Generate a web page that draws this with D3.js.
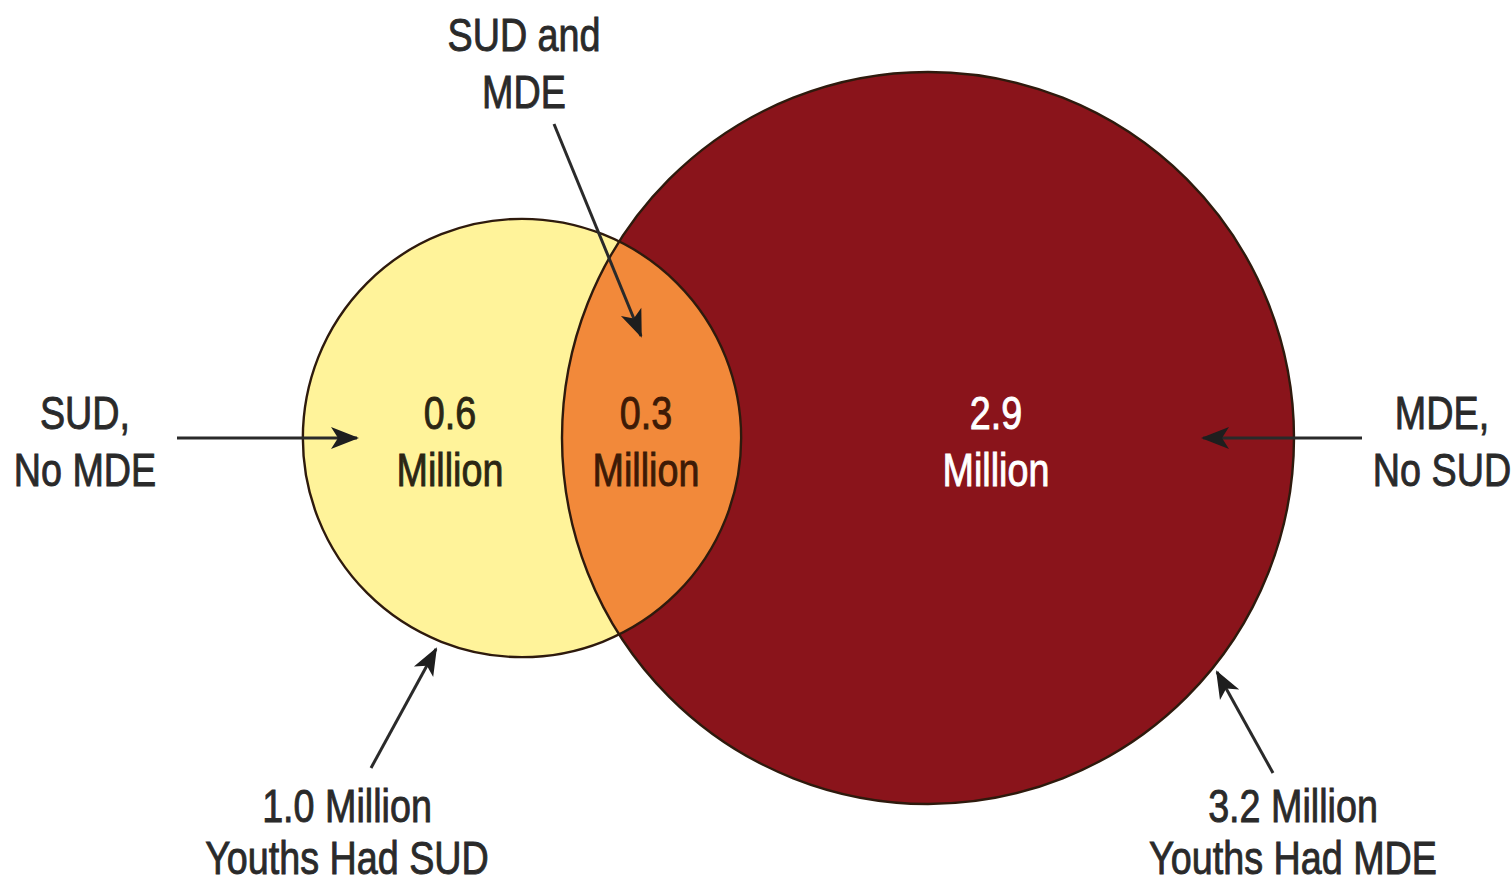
<!DOCTYPE html>
<html>
<head>
<meta charset="utf-8">
<script src="https://cdn.jsdelivr.net/npm/d3@7/dist/d3.min.js"></script>
<style>
  html, body { margin: 0; padding: 0; background: #ffffff; }
  svg { display: block; }
  text { font-family: "Liberation Sans", Arial, sans-serif; }
</style>
</head>
<body>
<svg id="chart" width="1512" height="885"></svg>
<script>
// Youths with substance use disorder (SUD) and major depressive episode (MDE), in millions
const setNames = ["SUD", "MDE"];
const setTotals = [1.0, 3.2];
const setTotalLabels = ["1.0 Million", "3.2 Million"];
const setTotalSubLabels = ["Youths Had SUD", "Youths Had MDE"];

const regionKeys = ["sudOnly", "both", "mdeOnly"];
const regionValues = [0.6, 0.3, 2.9];
const regionNames = [["SUD,", "No MDE"], ["SUD and", "MDE"], ["MDE,", "No SUD"]];

const W = 1512, H = 885;
const svg = d3.select("#chart");

const fmt = d3.format(".1f");

// circle radius from set total
const rScale = d3.scaleSqrt().domain([0, d3.max(setTotals)]).range([33, 366]);
const rSud = rScale(setTotals[0]);
const rMde = rScale(setTotals[1]);

const cy = 438;
const cxSud = 522;
const cxMde = 928;

const fills = { sud: "#fff39a", mde: "#8a141b", both: "#f2893a" };
const outline = "#2e1a0d";

const defs = svg.append("defs");
defs.append("clipPath").attr("id", "clipSud")
  .append("circle").attr("cx", cxSud).attr("cy", cy).attr("r", rSud);

defs.append("marker")
  .attr("id", "head")
  .attr("markerUnits", "userSpaceOnUse")
  .attr("viewBox", "-30 -14 34 28")
  .attr("refX", 0).attr("refY", 0)
  .attr("markerWidth", 34).attr("markerHeight", 28)
  .attr("orient", "auto")
  .append("path")
  .attr("d", "M2,0 L-26,-11 L-19,0 L-26,11 Z")
  .attr("fill", "#1e1e1e");

const g = svg.append("g");

// fills
g.append("circle").attr("cx", cxSud).attr("cy", cy).attr("r", rSud).attr("fill", fills.sud);
g.append("circle").attr("cx", cxMde).attr("cy", cy).attr("r", rMde).attr("fill", fills.mde);
g.append("circle").attr("cx", cxMde).attr("cy", cy).attr("r", rMde)
  .attr("fill", fills.both).attr("clip-path", "url(#clipSud)");

// outlines
g.append("circle").attr("cx", cxSud).attr("cy", cy).attr("r", rSud)
  .attr("fill", "none").attr("stroke", outline).attr("stroke-width", 2.4);
g.append("circle").attr("cx", cxMde).attr("cy", cy).attr("r", rMde)
  .attr("fill", "none").attr("stroke", outline).attr("stroke-width", 2.4);

// condensed two-line label centred on x
const fs = 46;
const squeeze = 0.82;
function label(x, y, lines, color, gap) {
  const t = g.append("text")
    .attr("transform", `translate(${x},${y}) scale(${squeeze},1)`)
    .attr("text-anchor", "middle")
    .attr("fill", color)
    .attr("stroke", color)
    .attr("stroke-width", 0.9)
    .attr("font-size", fs);
  lines.forEach((s, j) => {
    t.append("tspan").attr("x", 0).attr("y", j * gap).text(s);
  });
}

// region values
const regionPos = [
  { x: 450, color: "#2b2614" },
  { x: 646, color: "#3d1a06" },
  { x: 996, color: "#ffffff" }
];
regionValues.forEach((v, i) => {
  label(regionPos[i].x, 429, [fmt(v), "Million"], regionPos[i].color, 57);
});

// region name callouts
const namePos = [
  { x: 85, y: 429 },
  { x: 524, y: 51 },
  { x: 1442, y: 429 }
];
regionNames.forEach((lines, i) => {
  label(namePos[i].x, namePos[i].y, lines, "#2a2a2a", 57);
});

// set total callouts
const totalX = [347, 1293];
setTotals.forEach((v, i) => {
  label(totalX[i], 822, [setTotalLabels[i], setTotalSubLabels[i]], "#2a2a2a", 52);
});

// arrows
const arrows = [
  [[177, 438], [357, 438]],
  [[554, 124], [641, 336]],
  [[1362, 438], [1203, 438]],
  [[371, 768], [436, 649]],
  [[1273, 773], [1217, 672]]
];
const line = d3.line();
arrows.forEach(a => {
  g.append("path")
    .attr("d", line(a))
    .attr("stroke", "#2a2a2a")
    .attr("stroke-width", 3)
    .attr("fill", "none")
    .attr("marker-end", "url(#head)");
});
</script>
</body>
</html>
